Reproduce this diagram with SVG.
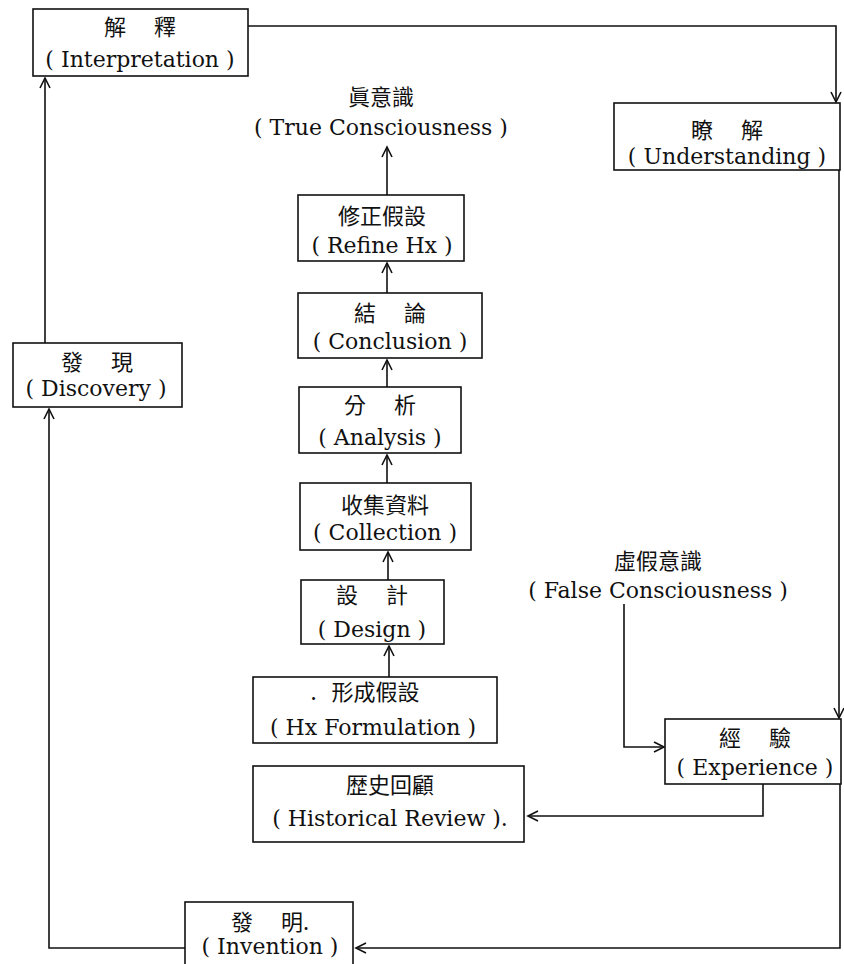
<svg xmlns="http://www.w3.org/2000/svg" width="844" height="964" viewBox="0 0 844 964">
<style>
.box{fill:#fff;stroke:#111;stroke-width:1.6}
.cj{font-family:"Noto Sans CJK TC","Noto Sans CJK SC",sans-serif;font-size:22px;text-anchor:middle;word-spacing:23px;fill:#111}
.en{font-family:"DejaVu Serif","Liberation Serif",serif;font-size:22px;text-anchor:middle;fill:#111}
.ln{fill:none;stroke:#111;stroke-width:1.6;marker-end:url(#ah)}
</style>
<defs>
<marker id="ah" markerUnits="userSpaceOnUse" markerWidth="14" markerHeight="14" refX="11" refY="6" orient="auto">
<path d="M1,1 L11,6 L1,11" fill="none" stroke="#111" stroke-width="1.6"/>
</marker>
</defs>
<rect width="844" height="964" fill="#fff"/>
<g id="connectors">
<path class="ln" d="M248,26 H836 V102"/>
<path class="ln" d="M839,170 V718"/>
<path class="ln" d="M624,604 V747 H664"/>
<path class="ln" d="M763,784 V816 H528"/>
<path class="ln" d="M840,784 V948 H356"/>
<path class="ln" d="M185,948 H49 V409"/>
<path class="ln" d="M45,343 V78"/>
<path class="ln" d="M389,677 V646"/>
<path class="ln" d="M388,580 V552"/>
<path class="ln" d="M387,483 V455"/>
<path class="ln" d="M387,387 V360"/>
<path class="ln" d="M387,293 V263"/>
<path class="ln" d="M387,195 V147"/>
</g>
<g id="interpretation">
<rect class="box" x="33" y="9" width="215" height="67"/>
<text class="cj" x="140" y="35">解 釋</text>
<text class="en" x="140" y="67">( Interpretation )</text>
</g>
<g id="understanding">
<rect class="box" x="614" y="103" width="226" height="67"/>
<text class="cj" x="727" y="138">瞭 解</text>
<text class="en" x="727" y="164">( Understanding )</text>
</g>
<g id="true-consciousness">
<text class="cj" x="381" y="105">眞意識</text>
<text class="en" x="381" y="135">( True Consciousness )</text>
</g>
<g id="refine">
<rect class="box" x="298" y="195" width="166" height="66"/>
<text class="cj" x="382" y="224">修正假設</text>
<text class="en" x="382" y="253">( Refine Hx )</text>
</g>
<g id="conclusion">
<rect class="box" x="298" y="293" width="184" height="65"/>
<text class="cj" x="390" y="321">結 論</text>
<text class="en" x="390" y="349">( Conclusion )</text>
</g>
<g id="analysis">
<rect class="box" x="299" y="387" width="162" height="66"/>
<text class="cj" x="380" y="413">分 析</text>
<text class="en" x="380" y="445">( Analysis )</text>
</g>
<g id="collection">
<rect class="box" x="300" y="483" width="171" height="67"/>
<text class="cj" x="385" y="513">收集資料</text>
<text class="en" x="385" y="540">( Collection )</text>
</g>
<g id="design">
<rect class="box" x="301" y="580" width="143" height="64"/>
<text class="cj" x="372" y="603">設 計</text>
<text class="en" x="372" y="637">( Design )</text>
</g>
<g id="hx-formulation">
<rect class="box" x="253" y="677" width="244" height="66"/>
<text class="cj" x="365" y="700" style="word-spacing:10px">. 形成假設</text>
<text class="en" x="373" y="735">( Hx Formulation )</text>
</g>
<g id="historical-review">
<rect class="box" x="253" y="766" width="271" height="76"/>
<text class="cj" x="390" y="793">歴史回顧</text>
<text class="en" x="390" y="826">( Historical Review ).</text>
</g>
<g id="false-consciousness">
<text class="cj" x="658" y="569">虛假意識</text>
<text class="en" x="658" y="598">( False Consciousness )</text>
</g>
<g id="experience">
<rect class="box" x="665" y="719" width="176" height="65"/>
<text class="cj" x="755" y="746">經 驗</text>
<text class="en" x="755" y="775">( Experience )</text>
</g>
<g id="discovery">
<rect class="box" x="13" y="343" width="169" height="64"/>
<text class="cj" x="97" y="370">發 現</text>
<text class="en" x="96" y="396">( Discovery )</text>
</g>
<g id="invention">
<rect class="box" x="185" y="902" width="168" height="70"/>
<text class="cj" x="270" y="930">發 明.</text>
<text class="en" x="270" y="954">( Invention )</text>
</g>
</svg>
